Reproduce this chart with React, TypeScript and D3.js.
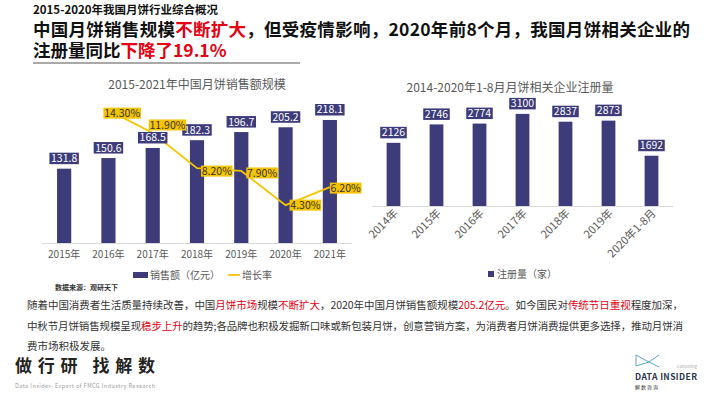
import * as d3 from "d3";

const salesYears = ["2015年", "2016年", "2017年", "2018年", "2019年", "2020年", "2021年"];
const salesValues = [131.8, 150.6, 168.5, 182.3, 196.7, 205.2, 218.1];
const rateYears = ["2016年", "2017年", "2018年", "2019年", "2020年", "2021年"];
const rateValues = [14.3, 11.9, 8.2, 7.9, 4.3, 6.2];
// label nudges (px) so the rate labels sit like the original
const rateLabelDx = [-5, -4, 4, 5, 4, 0];
const rateLabelDy = [3, -8, 3, 2, 0, 1];

const regYears = ["2014年", "2015年", "2016年", "2017年", "2018年", "2019年", "2020年1-8月"];
const regValues = [2126, 2746, 2774, 3100, 2837, 2873, 1692];

const NAVY = "#3d3b7a";
const GOLD = "#f5c400";
const RED = "#e60012";
const FONT = "'Noto Sans CJK SC', 'Noto Sans', sans-serif";

// rough text width for label boxes
function textW(s: string, fs: number) {
  let w = 0;
  for (const c of s) {
    if (c === ".") w += 0.28;
    else if (c === "%") w += 0.86;
    else w += 0.56;
  }
  return w * fs;
}

export default function App() {
  // left chart scales
  const xL = d3.scaleBand().domain(salesYears).range([42, 352]).paddingInner(0.68).paddingOuter(0.34);
  const yL = d3.scaleLinear().domain([0, 250]).range([243, 102]);
  const yRate = d3.scaleLinear().domain([0, 16]).range([246, 94]);
  const line = d3
    .line<number>()
    .x((_, i) => xL(rateYears[i])! + xL.bandwidth() / 2)
    .y((d) => yRate(d));

  // right chart scales
  const xR = d3.scaleBand().domain(regYears).range([372, 673]).paddingInner(0.68).paddingOuter(0.34);
  const yR = d3.scaleLinear().domain([0, 3500]).range([206, 102]);

  const fsLab = 10.5;

  return (
    <svg
      width={710}
      height={399}
      style={{ position: "absolute", left: 0, top: 0, background: "#fff" }}
      fontFamily={FONT}
    >
      {/* header */}
      <text x={33} y={14} fontSize={11.5} fontWeight="bold" fill="#111">
        2015-2020年我国月饼行业综合概况
      </text>
      <text x={33} y={36} fontSize={17.5} fontWeight="bold" fill="#111" textLength={657} lengthAdjust="spacing">
        中国月饼销售规模<tspan fill={RED}>不断扩大</tspan>，但受疫情影响，2020年前8个月，我国月饼相关企业的
      </text>
      <text x={33} y={57} fontSize={17.5} fontWeight="bold" fill="#111">
        注册量同比<tspan fill={RED}>下降了19.1%</tspan>
      </text>
      <line x1={33} x2={300} y1={63} y2={63} stroke="#8c8c8c" strokeWidth={1.5} />

      {/* left chart */}
      <text x={197} y={89} textAnchor="middle" fontSize={12} fill="#595959">
        2015-2021年中国月饼销售额规模
      </text>
      <line x1={42} x2={352} y1={243.5} y2={243.5} stroke="#d9d9d9" />
      {salesValues.map((v, i) => {
        const x = xL(salesYears[i])!;
        const cx = x + xL.bandwidth() / 2;
        const top = yL(v);
        return (
          <g key={i}>
            <rect x={x} y={top} width={xL.bandwidth()} height={yL(0) - top} fill={NAVY} />
            <text x={cx} y={258} textAnchor="middle" fontSize={10} fill="#595959">
              {salesYears[i]}
            </text>
          </g>
        );
      })}
      <path d={line(rateValues)!} fill="none" stroke={GOLD} strokeWidth={1.8} />
      {salesValues.map((v, i) => {
        const cx = xL(salesYears[i])! + xL.bandwidth() / 2;
        const t = v.toFixed(1);
        const w = textW(t, fsLab) + 3;
        const top = yL(v);
        return (
          <g key={i}>
            <rect x={cx - w / 2} y={top - 16} width={w} height={11.5} fill={NAVY} />
            <text x={cx} y={top - 6.5} textAnchor="middle" fontSize={fsLab} fill="#fff">
              {t}
            </text>
          </g>
        );
      })}
      {rateValues.map((v, i) => {
        const cx = xL(rateYears[i])! + xL.bandwidth() / 2;
        const cy = yRate(v) + rateLabelDy[i];
        const t = v.toFixed(2) + "%";
        const w = textW(t, fsLab) + 2;
        const lx = cx + rateLabelDx[i];
        return (
          <g key={i}>
            <rect x={lx} y={cy - 5.5} width={w} height={11} fill={GOLD} />
            <text x={lx + w / 2} y={cy + 3.8} textAnchor="middle" fontSize={fsLab} fill="#333">
              {t}
            </text>
          </g>
        );
      })}
      {/* left legend */}
      <rect x={133} y={272} width={15} height={6} fill={NAVY} />
      <text x={150} y={279} fontSize={10} fill="#595959">
        销售额（亿元）
      </text>
      <line x1={228} x2={240} y1={275} y2={275} stroke={GOLD} strokeWidth={1.8} />
      <text x={242} y={279} fontSize={10} fill="#595959">
        增长率
      </text>
      <text x={55} y={290} fontSize={7} fontWeight="bold" fill="#333">
        数据来源：观研天下
      </text>

      {/* right chart */}
      <text x={510} y={92} textAnchor="middle" fontSize={12} fill="#595959">
        2014-2020年1-8月月饼相关企业注册量
      </text>
      <line x1={372} x2={673} y1={206.5} y2={206.5} stroke="#d9d9d9" />
      {regValues.map((v, i) => {
        const x = xR(regYears[i])!;
        const cx = x + xR.bandwidth() / 2;
        const t = String(v);
        const w = textW(t, fsLab) + 3;
        const top = yR(v);
        return (
          <g key={i}>
            <rect x={x} y={top} width={xR.bandwidth()} height={yR(0) - top} fill={NAVY} />
            <rect x={cx - w / 2} y={top - 16} width={w} height={11.5} fill={NAVY} />
            <text x={cx} y={top - 6.5} textAnchor="middle" fontSize={fsLab} fill="#fff">
              {t}
            </text>
            <text
              transform={`translate(${cx + 5},${214}) rotate(-45)`}
              textAnchor="end"
              fontSize={11}
              fill="#595959"
            >
              {regYears[i]}
            </text>
          </g>
        );
      })}
      <rect x={488} y={271} width={6} height={6} fill={NAVY} />
      <text x={497} y={278} fontSize={10} fill="#595959">
        注册量（家）
      </text>

      {/* body text */}
      <text x={27} y={309} fontSize={10.5} fill="#333" textLength={656} lengthAdjust="spacing">
        随着中国消费者生活质量持续改善，中国<tspan fill={RED}>月饼市场</tspan>规模<tspan fill={RED}>不断扩大</tspan>，2020年中国月饼销售额规模<tspan fill={RED}>205.2亿元</tspan>。如今国民对<tspan fill={RED}>传统节日重视</tspan>程度加深，
      </text>
      <text x={27} y={330} fontSize={10.5} fill="#333" textLength={656} lengthAdjust="spacing">
        中秋节月饼销售规模呈现<tspan fill={RED}>稳步上升</tspan>的趋势;各品牌也积极发掘新口味或新包装月饼，创意营销方案，为消费者月饼消费提供更多选择，推动月饼消
      </text>
      <text x={27} y={350} fontSize={10.5} fill="#333">
        费市场积极发展。
      </text>

      {/* footer logos */}
      <text x={15} y={372} fontSize={17} fontWeight="bold" fill="#222" textLength={140} lengthAdjust="spacing">
        做行研 找解数
      </text>
      <text x={15} y={388} fontSize={5.5} fill="#999" textLength={140} lengthAdjust="spacing">
        Data Insider- Expert of FMCG Industry Research
      </text>
      <path
        d="M636 355 L649 362 L636 366 Z M649 362 L659 355 M649 362 L659 367"
        fill="none"
        stroke="#5aa6c8"
        strokeWidth={1}
      />
      <text x={697} y={368} textAnchor="end" fontSize={4} fill="#aaa">
        Consulting
      </text>
      <text x={635} y={380} fontSize={8.5} fontWeight="bold" fill="#2c3550" textLength={62} lengthAdjust="spacing">
        DATA INSIDER
      </text>
      <text x={635} y={389} fontSize={5} fill="#333" letterSpacing={1}>
        解数咨询
      </text>
    </svg>
  );
}
